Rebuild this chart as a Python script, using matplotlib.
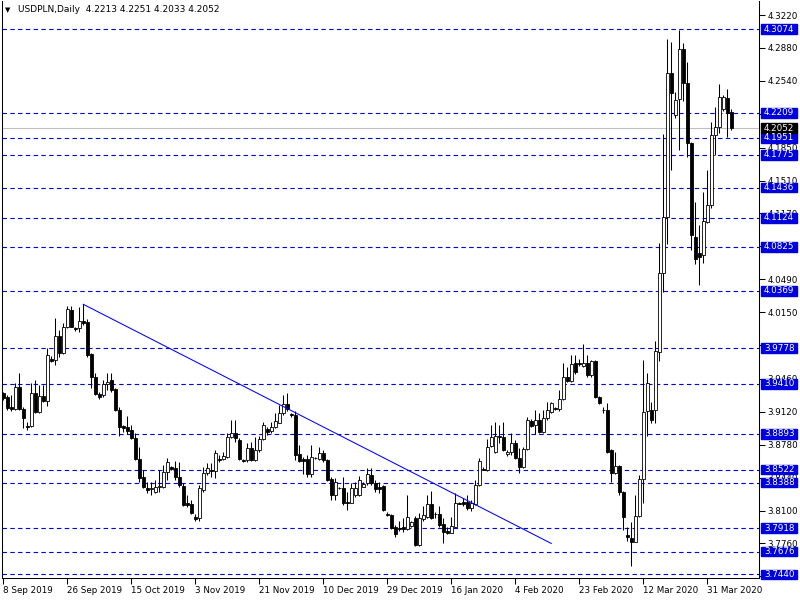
import matplotlib.pyplot as plt
import matplotlib.transforms as mtransforms
from matplotlib.patches import Rectangle
import pandas as pd

plt.rcParams['font.family'] = ['DejaVu Sans']

# --- Dados USDPLN diário (barras de domingo a sexta) ---
dates = pd.bdate_range('2019-09-08', '2020-04-07', freq='C', weekmask='Sun Mon Tue Wed Thu Fri')

opens = [
    3.9315, 3.9275, 3.9168, 3.9148, 3.9375, 3.9148, 3.8971, 3.8971, 3.9315, 3.9118,
    3.9285, 3.9228, 3.9668, 3.9652, 3.9905, 3.9728, 3.9995, 4.0171, 3.9985, 3.9985,
    4.0055, 4.0045, 3.9718, 3.9482, 3.9305, 3.9295, 3.9405, 3.9445, 3.9355, 3.9138,
    3.8971, 3.8961, 3.8931, 3.8851, 3.8634, 3.8448, 3.8331, 3.8321, 3.8291, 3.8341,
    3.8341, 3.8498, 3.8548, 3.8538, 3.8448, 3.8351, 3.8174, 3.8164, 3.8034, 3.8024,
    3.8311, 3.8488, 3.8518, 3.8508, 3.8634, 3.8634, 3.8654, 3.8861, 3.8901, 3.8824,
    3.8618, 3.8618, 3.8744, 3.8618, 3.8724, 3.8841, 3.8941, 3.8921, 3.8961, 3.9001,
    3.9108, 3.9198, 3.9098, 3.9088, 3.8684, 3.8634, 3.8634, 3.8478, 3.8644, 3.8634,
    3.8694, 3.8618, 3.8428, 3.8261, 3.8331, 3.8331, 3.8184, 3.8174, 3.8261, 3.8261,
    3.8341, 3.8381, 3.8468, 3.8381, 3.8341, 3.8351, 3.8064, 3.8054, 3.7927, 3.7917,
    3.7927, 3.7907, 3.7937, 3.8024, 3.7740, 3.8014, 3.8034, 3.8164, 3.8064, 3.8064,
    3.7957, 3.7887, 3.7867, 3.7927, 3.8174, 3.8184, 3.8184, 3.8124, 3.8164, 3.8361,
    3.8528, 3.8518, 3.8764, 3.8704, 3.8871, 3.8861, 3.8684, 3.8704, 3.8794, 3.8644,
    3.8548, 3.8734, 3.9021, 3.8981, 3.9031, 3.8911, 3.9058, 3.9118, 3.9158, 3.9148,
    3.9255, 3.9482, 3.9435, 3.9622, 3.9622, 3.9592, 3.9622, 3.9502, 3.9642, 3.9275,
    3.9138, 3.9138, 3.8724, 3.8488, 3.8558, 3.8291, 3.7847, 3.7817, 3.7780, 3.8044,
    3.8428, 3.9128, 3.9138, 3.9138, 3.9738, 4.0556, 4.1136, 4.2624, 4.2191, 4.2357,
    4.2871, 4.2517, 4.1897, 4.0930, 4.0763, 4.0743, 4.1080, 4.1256, 4.1984, 4.2064,
    4.2251, 4.2367, 4.2213,
]
highs = [
    3.9325, 3.9295, 3.9295, 3.9415, 3.9522, 3.9168, 3.9011, 3.9415, 3.9445, 3.9395,
    3.9395, 3.9778, 3.9698, 4.0091, 3.9965, 4.0035, 4.0211, 4.0211, 3.9995, 4.0201,
    4.0231, 4.0081, 3.9728, 3.9522, 3.9325, 3.9445, 3.9522, 3.9522, 3.9365, 3.9168,
    3.8981, 3.9078, 3.8981, 3.8901, 3.8754, 3.8518, 3.8391, 3.8391, 3.8411, 3.8518,
    3.8568, 3.8644, 3.8558, 3.8608, 3.8598, 3.8381, 3.8261, 3.8204, 3.8064, 3.8361,
    3.8548, 3.8588, 3.8588, 3.8724, 3.8674, 3.8704, 3.8901, 3.9031, 3.9031, 3.8851,
    3.8634, 3.8794, 3.8804, 3.8861, 3.8871, 3.9011, 3.8961, 3.9011, 3.9108, 3.9188,
    3.9295, 3.9315, 3.9108, 3.9128, 3.8774, 3.8654, 3.8674, 3.8774, 3.8654, 3.8754,
    3.8724, 3.8634, 3.8448, 3.8438, 3.8341, 3.8448, 3.8291, 3.8381, 3.8391, 3.8458,
    3.8391, 3.8538, 3.8538, 3.8411, 3.8391, 3.8361, 3.8084, 3.8064, 3.7947, 3.7997,
    3.8024, 3.8261, 3.7987, 3.8044, 3.8074, 3.8144, 3.8261, 3.8301, 3.8084, 3.8144,
    3.8024, 3.7927, 3.8034, 3.8281, 3.8184, 3.8231, 3.8261, 3.8204, 3.8411, 3.8644,
    3.8548, 3.8844, 3.8981, 3.9011, 3.8981, 3.9011, 3.8724, 3.8901, 3.8824, 3.8744,
    3.8754, 3.9068, 3.9048, 3.9138, 3.9108, 3.9138, 3.9218, 3.9218, 3.9168, 3.9345,
    3.9622, 3.9582, 3.9708, 3.9708, 3.9668, 3.9818, 3.9708, 3.9652, 3.9652, 3.9285,
    3.9168, 3.9208, 3.8734, 3.8704, 3.8568, 3.8301, 3.7927, 3.7977, 3.8261, 3.8468,
    3.9652, 3.9522, 3.9218, 3.9848, 4.0863, 4.1994, 4.2977, 4.2941, 4.2427, 4.3070,
    4.2931, 4.2734, 4.1907, 4.1286, 4.1050, 4.1393, 4.1620, 4.2114, 4.2271, 4.2507,
    4.2397, 4.2457, 4.2251,
]
lows = [
    3.9238, 3.9138, 3.9128, 3.9138, 3.9138, 3.8951, 3.8931, 3.8961, 3.9108, 3.9108,
    3.9218, 3.9178, 3.9632, 3.9602, 3.9688, 3.9718, 3.9985, 3.9995, 3.9955, 3.9945,
    4.0015, 3.9688, 3.9365, 3.9295, 3.9255, 3.9275, 3.9345, 3.9325, 3.9128, 3.8871,
    3.8911, 3.8891, 3.8841, 3.8618, 3.8391, 3.8331, 3.8281, 3.8261, 3.8281, 3.8291,
    3.8331, 3.8411, 3.8518, 3.8411, 3.8341, 3.8144, 3.8134, 3.8064, 3.7997, 3.7997,
    3.8291, 3.8468, 3.8448, 3.8438, 3.8598, 3.8618, 3.8644, 3.8851, 3.8804, 3.8618,
    3.8605, 3.8598, 3.8608, 3.8608, 3.8704, 3.8824, 3.8881, 3.8901, 3.8951, 3.9001,
    3.9088, 3.9128, 3.9068, 3.8618, 3.8598, 3.8478, 3.8448, 3.8448, 3.8634, 3.8618,
    3.8598, 3.8401, 3.8204, 3.8204, 3.8321, 3.8154, 3.8104, 3.8174, 3.8241, 3.8251,
    3.8341, 3.8361, 3.8361, 3.8291, 3.8281, 3.8094, 3.8044, 3.7907, 3.7827, 3.7887,
    3.7877, 3.7897, 3.7927, 3.7730, 3.7730, 3.7997, 3.8024, 3.8014, 3.8024, 3.7927,
    3.7760, 3.7857, 3.7867, 3.7927, 3.8164, 3.8144, 3.8104, 3.8094, 3.8154, 3.8351,
    3.8518, 3.8508, 3.8754, 3.8694, 3.8794, 3.8714, 3.8664, 3.8674, 3.8634, 3.8488,
    3.8538, 3.8724, 3.8961, 3.8891, 3.8901, 3.8901, 3.9031, 3.9108, 3.9138, 3.9128,
    3.9238, 3.9425, 3.9425, 3.9512, 3.9592, 3.9582, 3.9482, 3.9482, 3.9265, 3.9198,
    3.9108, 3.8694, 3.8391, 3.8478, 3.8261, 3.7897, 3.7790, 3.7523, 3.7770, 3.8034,
    3.8174, 3.8871, 3.9001, 3.9001, 3.9642, 4.0359, 4.0853, 4.1620, 4.2161, 4.1827,
    4.2327, 4.1757, 4.0793, 4.0646, 4.0429, 4.0656, 4.1070, 4.1226, 4.1777, 4.2004,
    4.2231, 4.1964, 4.2033,
]
closes = [
    3.9265, 3.9158, 3.9148, 3.9375, 3.9148, 3.9058, 3.8961, 3.9315, 3.9118, 3.9285,
    3.9228, 3.9708, 3.9642, 3.9905, 3.9728, 3.9995, 4.0181, 3.9995, 3.9975, 4.0055,
    4.0035, 3.9708, 3.9482, 3.9305, 3.9275, 3.9405, 3.9425, 3.9345, 3.9138, 3.8961,
    3.8951, 3.8921, 3.8851, 3.8634, 3.8438, 3.8341, 3.8311, 3.8331, 3.8341, 3.8351,
    3.8498, 3.8598, 3.8528, 3.8448, 3.8361, 3.8154, 3.8154, 3.8074, 3.8014, 3.8331,
    3.8488, 3.8538, 3.8508, 3.8694, 3.8618, 3.8664, 3.8861, 3.8901, 3.8851, 3.8634,
    3.8610, 3.8744, 3.8618, 3.8724, 3.8841, 3.8981, 3.8911, 3.8961, 3.9021, 3.9108,
    3.9198, 3.9148, 3.9088, 3.8674, 3.8608, 3.8608, 3.8478, 3.8654, 3.8640, 3.8694,
    3.8618, 3.8411, 3.8261, 3.8391, 3.8328, 3.8174, 3.8174, 3.8331, 3.8331, 3.8411,
    3.8371, 3.8478, 3.8381, 3.8321, 3.8321, 3.8104, 3.8054, 3.7917, 3.7857, 3.7907,
    3.7907, 3.8034, 3.7977, 3.7740, 3.8024, 3.8054, 3.8164, 3.8024, 3.8060, 3.7947,
    3.7877, 3.7867, 3.7937, 3.8174, 3.8170, 3.8164, 3.8124, 3.8174, 3.8361, 3.8608,
    3.8520, 3.8754, 3.8861, 3.8871, 3.8861, 3.8724, 3.8704, 3.8794, 3.8644, 3.8548,
    3.8734, 3.9031, 3.8971, 3.9031, 3.8911, 3.9058, 3.9138, 3.9208, 3.9154, 3.9255,
    3.9482, 3.9435, 3.9612, 3.9532, 3.9612, 3.9622, 3.9502, 3.9642, 3.9275, 3.9208,
    3.9134, 3.8704, 3.8488, 3.8558, 3.8291, 3.8034, 3.7827, 3.7780, 3.8044, 3.8428,
    3.9118, 3.9415, 3.9031, 3.9748, 4.0556, 4.1136, 4.2624, 4.2417, 4.2341, 4.2871,
    4.2517, 4.1897, 4.0950, 4.0703, 4.0723, 4.1090, 4.1256, 4.1984, 4.2064, 4.2377,
    4.2377, 4.2211, 4.2052,
]

# níveis horizontais (linhas tracejadas com etiqueta azul)
niveis = [4.3074, 4.2209, 4.1951, 4.1775, 4.1436, 4.1124, 4.0825, 4.0369,
          3.9778, 3.9410, 3.8893, 3.8522, 3.8388, 3.7918, 3.7676, 3.7440]
precos_eixo = [4.3220, 4.2880, 4.2540, 4.2200, 4.1850, 4.1510, 4.1170, 4.0830, 4.0490,
               4.0150, 3.9810, 3.9460, 3.9120, 3.8780, 3.8440, 3.8100, 3.7760, 3.7420]
# marcas que ficam totalmente tapadas pelas etiquetas azuis
precos_ocultos = [4.2200, 4.0830, 3.9810, 3.7420]
tendencia_idx = [20, 137]
tendencia_preco = [4.0231, 3.7760]
ultimo_preco = closes[-1]
titulo = 'USDPLN,Daily  4.2213 4.2251 4.2033 4.2052'

COR_AZUL = '#0000DD'
Y_MIN, Y_MAX = 3.7403, 4.3365

fig = plt.figure(figsize=(8, 6), dpi=100)
ax = fig.add_axes([2 / 800, 22 / 600, 757 / 800, 577 / 600])

# --- Velas ---
idx = list(range(len(closes)))
base = [min(o, c) for o, c in zip(opens, closes)]
altura = [abs(c - o) for o, c in zip(opens, closes)]
cores = ['white' if c >= o else 'black' for o, c in zip(opens, closes)]
ax.vlines(idx, lows, highs, color='black', lw=0.75, zorder=3)
ax.bar(idx, altura, bottom=base, width=0.62, color=cores, edgecolor='black',
       linewidth=0.6, zorder=4)

# --- Linhas horizontais e linha de tendência ---
ax.axhline(ultimo_preco, color='#C0C0C0', lw=0.75, zorder=1, snap=True)
for nv in niveis:
    ax.axhline(nv, color=COR_AZUL, lw=0.8, linestyle=(0, (4, 3)), zorder=2, snap=True)
ax.plot(tendencia_idx, tendencia_preco, color='#0000FF', lw=0.75, zorder=5)

ax.set_xlim(-0.33, 188.93)
ax.set_ylim(Y_MIN, Y_MAX)

# --- Eixo de preços (direita) ---
ax.yaxis.tick_right()
ax.set_yticks(precos_eixo)
ax.set_yticklabels(['' if p in precos_ocultos else f'{p:.4f}' for p in precos_eixo])
ax.tick_params(axis='y', length=4, width=0.75, pad=2, labelsize=6.3, colors='black')

# --- Eixo de datas ---
pos = list(range(0, len(dates), 16))
ax.set_xticks(pos)
ax.set_xticklabels([f'{d.day} {d:%b %Y}' for d in dates[pos]], ha='left')
ax.tick_params(axis='x', length=4, width=0.75, pad=2, labelsize=6.3, colors='black')

for lado in ['left', 'right', 'bottom']:
    ax.spines[lado].set_linewidth(0.75)
ax.spines['top'].set_visible(False)

# etiquetas de preço (caixas)
trans = mtransforms.blended_transform_factory(ax.transAxes, ax.transData)
h = 9.5 * (Y_MAX - Y_MIN) / 577
x0 = (761 - 2) / 757
w = 36 / 757
for nv in niveis:
    ax.add_patch(Rectangle((x0, nv - h / 2), w, h, transform=trans, color=COR_AZUL,
                           clip_on=False, zorder=6))
    ax.text(x0 + 3 / 757, nv, f'{nv:.4f}', transform=trans, color='white', fontsize=6.3,
            va='center', ha='left', clip_on=False, zorder=7)
ax.add_patch(Rectangle((x0, ultimo_preco - h / 2), w, h, transform=trans, color='black',
                       clip_on=False, zorder=6))
ax.text(x0 + 3 / 757, ultimo_preco, f'{ultimo_preco:.4f}', transform=trans, color='white',
        fontsize=6.3, va='center', ha='left', clip_on=False, zorder=7)

# título
fig.text(5 / 800, 1 - 10 / 600, '▼', fontsize=5, va='center')
fig.text(18 / 800, 1 - 10 / 600, titulo, fontsize=6.5, va='center')

plt.savefig('out.png', dpi=100)
